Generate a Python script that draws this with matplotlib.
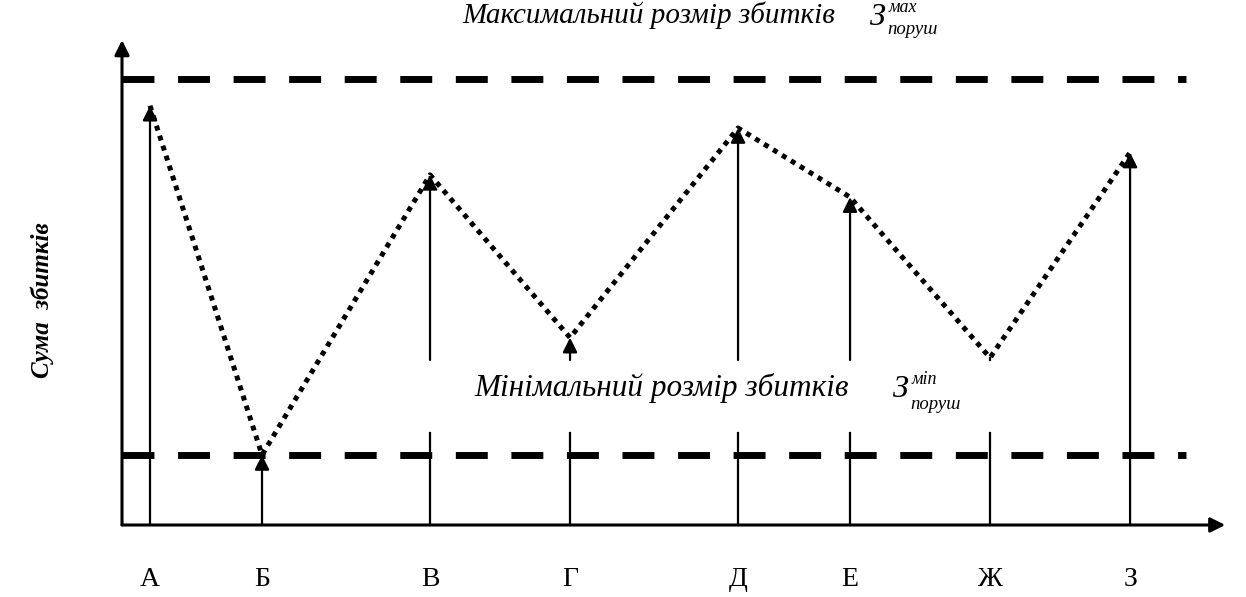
import matplotlib.pyplot as plt

# categories and positions along the axis
labels = ['А', 'Б', 'В', 'Г', 'Д', 'Е', 'Ж', 'З']
x_pos = [1, 5, 11, 16, 22, 26, 31, 36]
# damage sums (max level = 10)
values = [9.4, 1.57, 7.85, 4.2, 8.9, 7.35, 3.75, 8.35]
level_max = 10.0
level_min = 1.57
# which lines carry an arrow / get split by the min-label
has_arrow = [True, True, True, True, True, True, False, True]
split = [False, False, True, True, True, True, True, False]
gap_lo, gap_hi = 2.06, 3.7

plt.rcParams['font.family'] = ['Liberation Serif', 'DejaVu Serif']

fig = plt.figure(figsize=(12.46, 5.97), dpi=100)
ax = fig.add_axes([0, 0, 1, 1])
ax.set_xlim(-4.357, 40.14)
ax.set_ylim(-1.614, 11.77)
ax.axis('off')

arrow = dict(arrowstyle='-|>', color='black', lw=1.6, mutation_scale=22,
             shrinkA=0, shrinkB=0)

# axes with arrows
ax.annotate('', xy=(0, 10.87), xytext=(0, 0), arrowprops=dict(arrow, lw=2.2))
ax.annotate('', xy=(39.4, 0), xytext=(0, 0), arrowprops=dict(arrow, lw=2.2))

# max / min levels
for lvl in (level_max, level_min):
    ax.plot([0, 38], [lvl, lvl], color='black', lw=5,
            dashes=(4.6, 3.4), solid_capstyle='butt', dash_capstyle='butt')

# vertical lines
for x, v, a, s in zip(x_pos, values, has_arrow, split):
    if s:
        ax.plot([x, x], [0, gap_lo], color='black', lw=1.6)
        if v > gap_hi:
            if a:
                ax.annotate('', xy=(x, v), xytext=(x, gap_hi), arrowprops=arrow)
            else:
                ax.plot([x, x], [gap_hi, v], color='black', lw=1.6)
    else:
        ax.annotate('', xy=(x, v), xytext=(x, 0), arrowprops=arrow)

# dotted line through the points
ax.plot(x_pos, values, color='black', lw=3.6, linestyle=(0, (1, 1.1)))

# category labels
for x, lab in zip(x_pos, labels):
    ax.text(x, -1.23, lab, fontsize=20, ha='center', va='center')

ax.text(-2.85, 5.05, 'Сума  збитків', rotation=90, fontsize=18,
        fontweight='bold', fontstyle='italic', ha='center', va='center')

# level captions
ax.text(12.14, 11.43, 'Максимальний розмір збитків', fontsize=21,
        fontstyle='italic', ha='left', va='center')
ax.text(26.71, 11.37, 'З', fontsize=23, fontstyle='italic', ha='left', va='center')
ax.text(27.38, 11.6, 'мах', fontsize=13, fontstyle='italic', ha='left', va='center')
ax.text(27.32, 11.1, 'поруш', fontsize=13.5, fontstyle='italic', ha='left', va='center')

ax.text(12.6, 3.07, 'Мінімальний розмір збитків', fontsize=22.5,
        fontstyle='italic', ha='left', va='center')
ax.text(27.54, 3.03, 'З', fontsize=23, fontstyle='italic', ha='left', va='center')
ax.text(28.21, 3.27, 'міn', fontsize=13, fontstyle='italic', ha='left', va='center')
ax.text(28.14, 2.7, 'поруш', fontsize=13.5, fontstyle='italic', ha='left', va='center')

fig.savefig('out.png', dpi=100)
